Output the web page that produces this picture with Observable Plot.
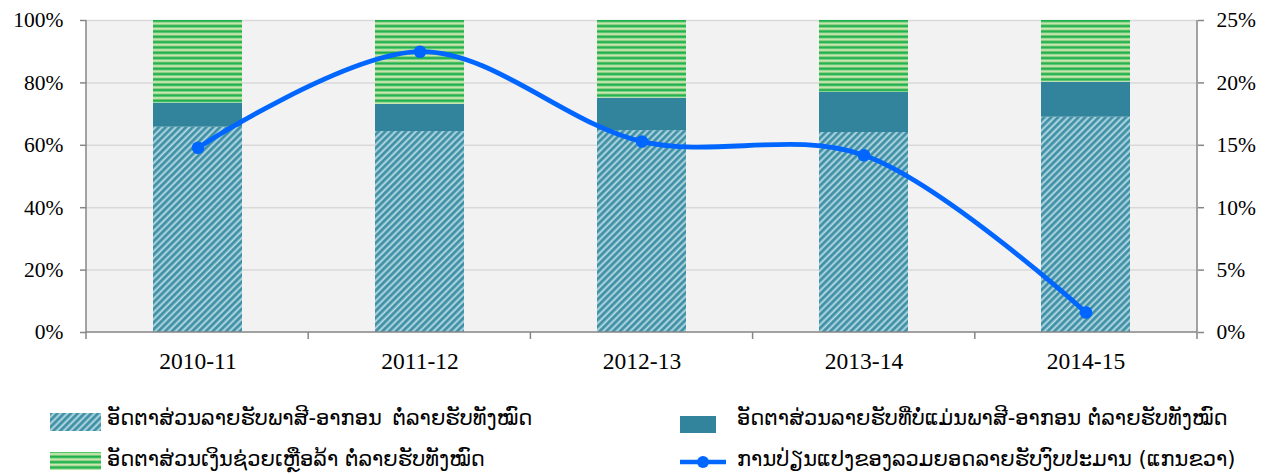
<!DOCTYPE html>
<html><head><meta charset="utf-8">
<script src="https://cdn.jsdelivr.net/npm/d3@7"></script>
<script src="https://cdn.jsdelivr.net/npm/@observablehq/plot@0.6"></script>
<style>
body{margin:0;background:#fff;}
#wrap{position:relative;width:1269px;height:474px;overflow:hidden;}
.leg{position:absolute;font-family:"DejaVu Sans",sans-serif;font-size:21px;white-space:nowrap;color:#000;line-height:1;}
.sw{position:absolute;}
</style></head><body><div id="wrap"></div>
<script>
const years = ["2010-11", "2011-12", "2012-13", "2013-14", "2014-15"];
const seriesNames = [
  "ອັດຕາສ່ວນລາຍຮັບພາສີ-ອາກອນ ຕໍ່ລາຍຮັບທັງໝົດ",
  "ອັດຕາສ່ວນລາຍຮັບທີ່ບໍ່ແມ່ນພາສີ-ອາກອນ ຕໍ່ລາຍຮັບທັງໝົດ",
  "ອັດຕາສ່ວນເງິນຊ່ວຍເຫຼືອລ້າ ຕໍ່ລາຍຮັບທັງໝົດ"
];
const lineName = "ການປ່ຽນແປງຂອງລວມຍອດລາຍຮັບງົບປະມານ (ແກນຂວາ)";
const taxShare = [65.8, 64.4, 64.7, 64.1, 69.0];
const nonTaxShare = [7.7, 8.7, 10.4, 12.9, 11.2];
const grantShare = [26.5, 26.9, 24.9, 23.0, 19.8];
const revenueGrowth = [14.8, 22.5, 15.3, 14.2, 1.6];
const leftTicks = [0, 20, 40, 60, 80, 100];
const rightTicks = [0, 5, 10, 15, 20, 25];

const fills = ["url(#hatch)", "#31849b", "url(#greenstripe)"];
const seriesValues = [taxShare, nonTaxShare, grantShare];
const barData = [];
years.forEach((yr, i) => seriesNames.forEach((s, j) => barData.push({year: yr, series: s, value: seriesValues[j][i]})));
const lineData = years.map((yr, i) => ({year: yr, growth: revenueGrowth[i]}));
const rightScale = 100 / 25;

const W = 1269, H = 390;
const axisGray = "#868686";

const frameLines = (index, scales, values, dims) => {
  const {width, height, marginLeft, marginRight, marginTop, marginBottom} = dims;
  const x0 = marginLeft, x1 = width - marginRight, y0 = marginTop, y1 = height - marginBottom;
  const g = d3.create("svg:g").attr("stroke", axisGray).attr("stroke-width", 1.5).attr("fill", "none");
  g.append("line").attr("x1", x0).attr("x2", x0).attr("y1", y0).attr("y2", y1);
  g.append("line").attr("x1", x1).attr("x2", x1).attr("y1", y0).attr("y2", y1);
  g.append("line").attr("x1", x0).attr("x2", x1).attr("y1", y1).attr("y2", y1);
  const n = years.length;
  for (let i = 0; i <= n; i++) {
    const x = x0 + i * (x1 - x0) / n;
    g.append("line").attr("x1", x).attr("x2", x).attr("y1", y1).attr("y2", y1 + 7);
  }
  return g.node();
};

const svg = Plot.plot({
  width: W, height: H,
  marginLeft: 86, marginRight: 72, marginTop: 20, marginBottom: 58,
  style: {fontFamily: "'Liberation Serif', 'Times New Roman', serif", fontSize: "21.5px", color: "#000", background: "transparent"},
  x: {domain: years, paddingInner: 0.6, paddingOuter: 0.3, label: null},
  y: {domain: [0, 100], label: null},
  color: {type: "ordinal", domain: seriesNames, range: fills},
  marks: [
    Plot.frame({fill: "#f2f2f2", stroke: "none"}),
    Plot.gridY(leftTicks.slice(1), {stroke: "#d9d9d9", strokeOpacity: 1, strokeWidth: 1.5}),
    Plot.barY(barData, {x: "year", y: "value", fill: "series"}),
    Plot.line(lineData, {x: "year", y: d => d.growth * rightScale, curve: "catmull-rom", stroke: "#0066ff", strokeWidth: 4.8}),
    Plot.dot(lineData, {x: "year", y: d => d.growth * rightScale, r: 6.3, fill: "#0066ff"}),
    Plot.axisY(leftTicks, {anchor: "left", tickFormat: d => d + "%", tickSize: 6, tickPadding: 17, stroke: axisGray, strokeWidth: 1.5, label: null}),
    Plot.axisY(rightTicks.map(t => t * rightScale), {anchor: "right", tickFormat: d => (d / rightScale) + "%", tickSize: 6, tickPadding: 13, stroke: axisGray, strokeWidth: 1.5, label: null}),
    Plot.axisX(years, {tickSize: 0, tickPadding: 20, fontSize: 23.5, label: null}),
    frameLines
  ]
});

const defs = `
<linearGradient id="hatchGrad" x1="0" y1="0" x2="1" y2="0">
  <stop offset="0" stop-color="#31849b"/>
  <stop offset="0.35" stop-color="#4d9cb1"/>
  <stop offset="0.65" stop-color="#cfe9f0"/>
  <stop offset="1" stop-color="#31849b"/>
</linearGradient>
<pattern id="hatch" patternUnits="userSpaceOnUse" width="4.8" height="10" patternTransform="rotate(45)">
  <rect width="4.8" height="10" fill="url(#hatchGrad)"/>
</pattern>
<linearGradient id="greenGrad" x1="0" y1="0" x2="0" y2="1">
  <stop offset="0" stop-color="#18a848"/>
  <stop offset="0.3" stop-color="#2dbb58"/>
  <stop offset="0.55" stop-color="#d3eab8"/>
  <stop offset="0.85" stop-color="#b3dc96"/>
  <stop offset="1" stop-color="#18a848"/>
</linearGradient>
<pattern id="greenstripe" patternUnits="userSpaceOnUse" width="10" height="5.33" y="20">
  <rect width="10" height="5.33" fill="url(#greenGrad)"/>
</pattern>`;
const defsEl = document.createElementNS("http://www.w3.org/2000/svg", "defs");
defsEl.innerHTML = defs;
svg.insertBefore(defsEl, svg.firstChild);
svg.style.position = "absolute";
svg.style.left = "0px";
svg.style.top = "0px";

const wrap = document.getElementById("wrap");
wrap.appendChild(svg);

function swatch(x, y, w, h, fill) {
  const s = d3.create("svg").attr("class", "sw").attr("width", w).attr("height", h)
    .style("left", x + "px").style("top", y + "px");
  s.append("rect").attr("width", w).attr("height", h).attr("fill", fill);
  wrap.appendChild(s.node());
}
function label(x, y, text, extra) {
  const d = document.createElement("div");
  d.className = "leg";
  d.style.left = x + "px";
  d.style.top = y + "px";
  if (extra) Object.assign(d.style, extra);
  d.textContent = text;
  wrap.appendChild(d);
}
swatch(50, 413, 51, 18, fills[0]);
label(107, 408, seriesNames[0], {wordSpacing: "4px"});
swatch(680, 416, 36, 17, fills[1]);
label(737, 408, seriesNames[1]);
swatch(50, 452, 51, 18, fills[2]);
label(107, 449, seriesNames[2]);
const ls = d3.create("svg").attr("class", "sw").attr("width", 50).attr("height", 20).style("left", "678px").style("top", "452px");
ls.append("line").attr("x1", 2).attr("x2", 48).attr("y1", 10).attr("y2", 10).attr("stroke", "#0066ff").attr("stroke-width", 4.5);
ls.append("circle").attr("cx", 25).attr("cy", 10).attr("r", 6).attr("fill", "#0066ff");
wrap.appendChild(ls.node());
label(737, 449, lineName);
</script></body></html>
